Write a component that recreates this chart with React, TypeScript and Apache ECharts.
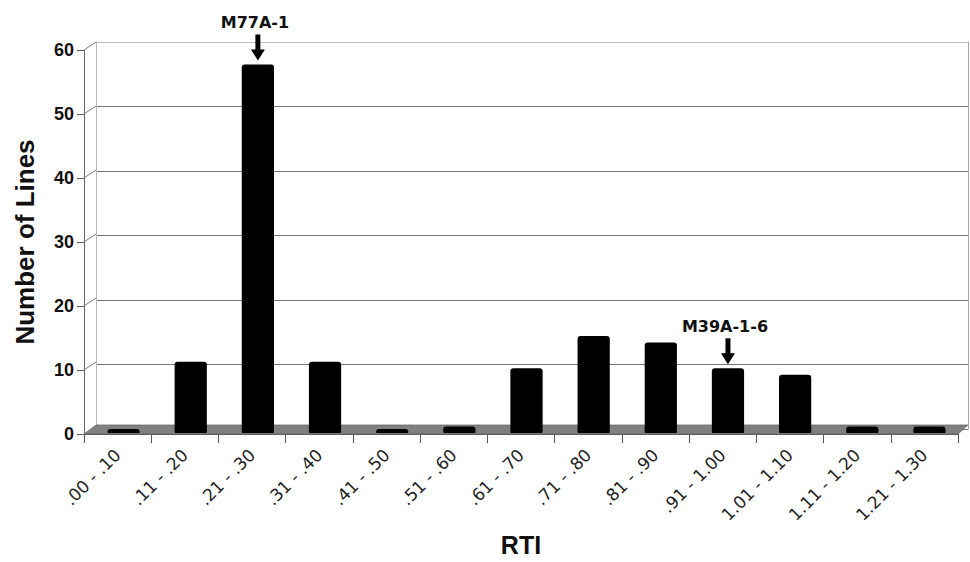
import React, { useEffect, useRef } from "react";
import * as echarts from "echarts";

const categories = [
  ".00 - .10", ".11 - .20", ".21 - .30", ".31 - .40", ".41 - .50", ".51 - .60",
  ".61 - .70", ".71 - .80", ".81 - .90", ".91 - 1.00", "1.01 - 1.10", "1.11 - 1.20", "1.21 - 1.30",
];
const lineCounts = [0, 11, 57, 11, 0, 1, 10, 15, 14, 10, 9, 1, 1];
const yTicks = [0, 10, 20, 30, 40, 50, 60];
const annotations = [
  { index: 2, label: "M77A-1" },
  { index: 9, label: "M39A-1-6" },
];

const FONT = "'Liberation Sans', Arial, Helvetica, sans-serif";
const WIDE = "'DejaVu Sans', Verdana, sans-serif";
const DX = 12;
const DY = 8;

export default function App() {
  const ref = useRef<HTMLDivElement>(null);
  useEffect(() => {
    if (!ref.current) return;
    const chart = echarts.init(ref.current, null, { renderer: "svg" });
    const option: any = {
      animation: false,
      backgroundColor: "#ffffff",
      grid: [
        { left: 84, top: 50, width: 874, height: 388 },
        { left: 96, top: 42, width: 872, height: 387 },
        { left: 90, top: 45, width: 873, height: 388 },
      ],
      xAxis: [
        {
          type: "category",
          gridIndex: 0,
          data: categories,
          boundaryGap: true,
          axisLine: { show: true, lineStyle: { color: "#555", width: 1 } },
          axisTick: { show: true, interval: 0, length: 9, lineStyle: { color: "#555" } },
          axisLabel: {
            interval: 0,
            rotate: 45,
            margin: 18,
            fontFamily: WIDE,
            fontSize: 17,
            color: "#222",
          },
          name: "RTI",
          nameLocation: "middle",
          nameGap: 98,
          nameTextStyle: { fontFamily: FONT, fontSize: 25, fontWeight: "bold", color: "#111" },
          splitLine: { show: false },
        },
        { type: "category", gridIndex: 1, data: categories, show: false },
        { type: "category", gridIndex: 2, data: categories, show: false },
      ],
      yAxis: [
        {
          type: "value",
          gridIndex: 0,
          min: 0,
          max: 60,
          interval: 10,
          axisLine: { show: true, lineStyle: { color: "#666" } },
          axisTick: { show: true, length: 7, lineStyle: { color: "#666" } },
          axisLabel: {
            margin: 10,
            fontFamily: FONT,
            fontSize: 18,
            fontWeight: "bold",
            color: "#111",
          },
          splitLine: { show: false },
          name: "Number of Lines",
          nameLocation: "middle",
          nameGap: 46,
          nameTextStyle: { fontFamily: FONT, fontSize: 26, fontWeight: "bold", color: "#111" },
        },
        {
          type: "value",
          gridIndex: 1,
          min: 0,
          max: 60,
          interval: 10,
          axisLine: { show: true, lineStyle: { color: "#b8b8b8" } },
          axisTick: { show: false },
          axisLabel: { show: false },
          splitLine: {
            show: true,
            lineStyle: {
              color: ["#777", "#777", "#777", "#777", "#777", "#777", "#bdbdbd"],
              width: 1,
            },
          },
        },
        {
          type: "value",
          gridIndex: 1,
          position: "right",
          min: 0,
          max: 60,
          interval: 10,
          axisLine: { show: true, lineStyle: { color: "#a0a0a0" } },
          axisTick: { show: false },
          axisLabel: { show: false },
          splitLine: { show: false },
        },
        { type: "value", gridIndex: 2, min: 0, max: 60, interval: 10, show: false },
      ],
      series: [
        {
          type: "custom",
          name: "floor",
          xAxisIndex: 0,
          yAxisIndex: 0,
          z: 1,
          silent: true,
          data: [[0, 0]],
          renderItem: (params: any, api: any) => {
            const cs = params.coordSys;
            const y0 = api.coord([0, 0])[1];
            const x0 = cs.x;
            const x1 = cs.x + cs.width;
            return {
              type: "polygon",
              shape: {
                points: [
                  [x0, y0],
                  [x1, y0],
                  [x1 + DX - 2, y0 - DY - 1],
                  [x0 + DX, y0 - DY - 1],
                ],
              },
              style: { fill: "#808080", stroke: "#6a6a6a", lineWidth: 0.8 },
            };
          },
        },
        {
          type: "custom",
          name: "sidewall",
          xAxisIndex: 0,
          yAxisIndex: 0,
          z: 2,
          silent: true,
          data: yTicks.filter((v) => v > 0).map((v) => [0, v]),
          renderItem: (params: any, api: any) => {
            const cs = params.coordSys;
            const y = api.coord([0, api.value(1)])[1];
            return {
              type: "line",
              shape: { x1: cs.x, y1: y, x2: cs.x + DX, y2: y - DY },
              style: { stroke: "#777", lineWidth: 1 },
            };
          },
        },
        {
          type: "bar",
          name: "Number of Lines",
          xAxisIndex: 2,
          yAxisIndex: 3,
          z: 3,
          data: lineCounts,
          barWidth: "48%",
          barMinHeight: 4,
          itemStyle: { color: "#000", borderRadius: [3, 3, 1, 1] },
        },
        {
          type: "custom",
          name: "annotations",
          xAxisIndex: 2,
          yAxisIndex: 3,
          z: 4,
          silent: true,
          data: annotations.map((a) => [a.index, lineCounts[a.index]]),
          renderItem: (params: any, api: any) => {
            const p = api.coord([api.value(0), api.value(1)]);
            const x = p[0];
            const top = p[1];
            const label = annotations[params.dataIndex].label;
            return {
              type: "group",
              children: [
                {
                  type: "rect",
                  shape: { x: x - 2.5, y: top - 30, width: 5, height: 16 },
                  style: { fill: "#000" },
                },
                {
                  type: "polygon",
                  shape: {
                    points: [
                      [x - 7, top - 15],
                      [x + 7, top - 15],
                      [x, top - 4],
                    ],
                  },
                  style: { fill: "#000" },
                },
                {
                  type: "text",
                  x: x - 3,
                  y: top - 42,
                  style: {
                    text: label,
                    fontFamily: WIDE,
                    fontSize: 16,
                    fontWeight: "bold",
                    fill: "#111",
                    align: "center",
                    verticalAlign: "middle",
                  },
                },
              ],
            };
          },
        },
      ],
    };
    chart.setOption(option);
    return () => chart.dispose();
  }, []);
  return <div ref={ref} style={{ width: 970, height: 562, position: "absolute", left: 0, top: 0 }} />;
}
